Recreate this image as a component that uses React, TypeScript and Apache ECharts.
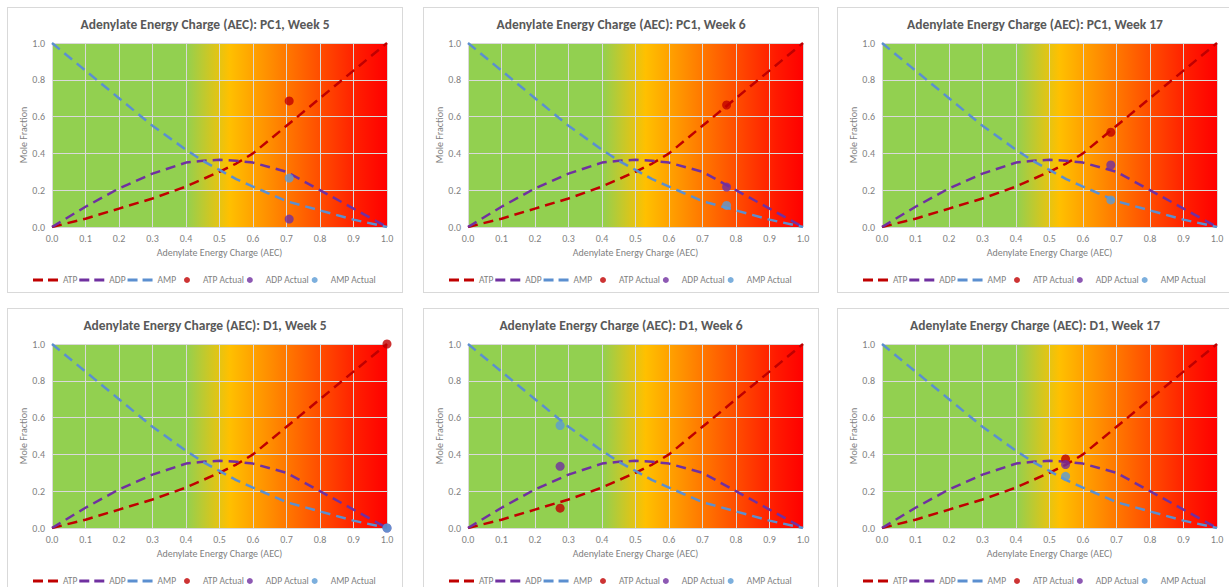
import React, { useEffect, useRef } from "react";
import * as echarts from "echarts";

// Theoretical curves (AEC vs mole fraction)
const aecPoints = [0, 0.1, 0.2, 0.3, 0.4, 0.45, 0.5, 0.55, 0.6, 0.7, 0.8, 0.9, 1.0];
const atpCurve = [0, 0.045, 0.1, 0.155, 0.22, 0.26, 0.3, 0.345, 0.4, 0.55, 0.7, 0.85, 1.0];
const adpCurve = [0, 0.11, 0.21, 0.29, 0.35, 0.36, 0.365, 0.36, 0.35, 0.3, 0.2, 0.1, 0];
const ampCurve = [1, 0.85, 0.7, 0.55, 0.42, 0.36, 0.31, 0.26, 0.22, 0.14, 0.09, 0.04, 0];

// Panels
const panelTitles = [
  "Adenylate Energy Charge (AEC): PC1, Week 5",
  "Adenylate Energy Charge (AEC): PC1, Week 6",
  "Adenylate Energy Charge (AEC): PC1, Week 17",
  "Adenylate Energy Charge (AEC): D1, Week 5",
  "Adenylate Energy Charge (AEC): D1, Week 6",
  "Adenylate Energy Charge (AEC): D1, Week 17",
];
const actualAEC = [0.708, 0.772, 0.683, 1.0, 0.275, 0.548];
const actualATP = [0.685, 0.663, 0.515, 1.0, 0.108, 0.375];
const actualADP = [0.043, 0.217, 0.337, 0.0, 0.335, 0.345];
const actualAMP = [0.266, 0.117, 0.147, 0.0, 0.557, 0.281];

const lineNames = ["ATP", "ADP", "AMP"];
const pointNames = ["ATP Actual", "ADP Actual", "AMP Actual"];

const FONT = "Carlito, Lato, 'Noto Sans', sans-serif";
const GRAY = "#7f7f7f";
const C_ATP = "#C00000";
const C_ADP = "#7030A0";
const C_AMP = "#5B8FD0";
const C_AMP_PT = "#5B9BD5";
const DASH_ICON = "path://M0,0H10V3H0Z M15,0H25V3H15Z";

function pairs(xs: number[], ys: number[]) {
  return xs.map((x, i) => [x, ys[i]]);
}

function buildOption(i: number) {
  const grad = new echarts.graphic.LinearGradient(0, 0, 1, 0, [
    { offset: 0, color: "#92D050" },
    { offset: 0.4, color: "#92D050" },
    { offset: 0.53, color: "#FFC000" },
    { offset: 0.92, color: "#FF1A00" },
    { offset: 1, color: "#FF0000" },
  ]);
  const dash = [10, 6];
  const lineSeries = (name: string, ys: number[], color: string) => ({
    type: "line",
    name,
    data: pairs(aecPoints, ys),
    symbol: "none",
    smooth: false,
    lineStyle: { color, width: 2.5, type: dash },
    itemStyle: { color },
    z: 2,
  });
  const pointSeries = (name: string, y: number, color: string) => ({
    type: "scatter",
    name,
    data: [[actualAEC[i], y]],
    symbol: "circle",
    symbolSize: 9,
    itemStyle: { color },
    z: 3,
  });
  const axisLabel = {
    fontSize: 10,
    color: GRAY,
    fontFamily: FONT,
    formatter: (v: number) => v.toFixed(1),
  };
  const splitLine = { show: true, lineStyle: { color: "#D9D9D9", width: 1 } };
  const nameStyle = { fontSize: 10, color: GRAY, fontFamily: FONT };
  const legendText = { fontSize: 9.5, color: GRAY, fontFamily: FONT };
  return {
    animation: false,
    title: {
      text: panelTitles[i],
      left: "center",
      top: 4,
      textStyle: { fontSize: 13.5, fontWeight: "bold", color: "#595959", fontFamily: FONT },
    },
    grid: {
      left: 44,
      top: 35,
      width: 335,
      height: 184,
      show: true,
      borderWidth: 0,
      backgroundColor: grad,
    },
    xAxis: {
      type: "value",
      min: 0,
      max: 1,
      interval: 0.1,
      name: "Adenylate Energy Charge (AEC)",
      nameLocation: "middle",
      nameGap: 20,
      nameTextStyle: nameStyle,
      axisLine: { show: false },
      axisTick: { show: false },
      axisLabel: { ...axisLabel, margin: 6 },
      splitLine,
    },
    yAxis: {
      type: "value",
      min: 0,
      max: 1,
      interval: 0.2,
      name: "Mole Fraction",
      nameLocation: "middle",
      nameGap: 24,
      nameMoveOverlap: false,
      nameTextStyle: nameStyle,
      axisLine: { show: false },
      axisTick: { show: false },
      axisLabel: { ...axisLabel, margin: 7 },
      splitLine,
    },
    legend: [
      {
        data: lineNames.map((n) => ({ name: n, icon: DASH_ICON })),
        left: 20,
        top: 262,
        itemWidth: 25,
        itemHeight: 10,
        itemGap: 2,
        textStyle: legendText,
      },
      {
        data: pointNames,
        left: 171,
        top: 262,
        icon: "circle",
        itemWidth: 22,
        itemHeight: 6,
        itemGap: 3,
        textStyle: legendText,
      },
    ],
    series: [
      lineSeries("ATP", atpCurve, C_ATP),
      lineSeries("ADP", adpCurve, C_ADP),
      lineSeries("AMP", ampCurve, C_AMP),
      pointSeries("ATP Actual", actualATP[i], C_ATP),
      pointSeries("ADP Actual", actualADP[i], C_ADP),
      pointSeries("AMP Actual", actualAMP[i], C_AMP_PT),
    ],
  };
}

const colLeft = [7, 423, 837];
const rowTop = [7, 308];

function Panel({ idx }: { idx: number }) {
  const ref = useRef<HTMLDivElement>(null);
  useEffect(() => {
    if (!ref.current) return;
    const chart = echarts.init(ref.current, null, { renderer: "svg" });
    chart.setOption(buildOption(idx) as any);
    return () => chart.dispose();
  }, [idx]);
  const left = colLeft[idx % 3];
  const top = rowTop[Math.floor(idx / 3)];
  return (
    <div
      ref={ref}
      style={{
        position: "absolute",
        left,
        top,
        width: 396,
        height: 286,
        border: "1px solid #D9D9D9",
        boxSizing: "border-box",
        background: "#fff",
      }}
    />
  );
}

export default function App() {
  return (
    <div
      style={{
        position: "fixed",
        left: 0,
        top: 0,
        width: 1229,
        height: 587,
        overflow: "hidden",
        background: "#fff",
      }}
    >
      {panelTitles.map((_, i) => (
        <Panel key={i} idx={i} />
      ))}
    </div>
  );
}
